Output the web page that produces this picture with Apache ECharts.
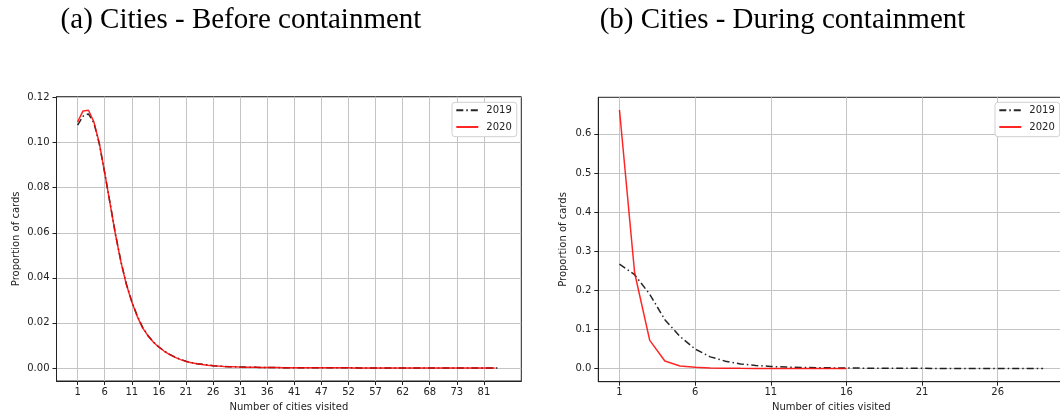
<!DOCTYPE html>
<html><head><meta charset="utf-8">
<script src="https://cdn.jsdelivr.net/npm/echarts@6/dist/echarts.min.js"></script>
<style>html,body{margin:0;padding:0;background:#fff}#c{width:1060px;height:416px}</style>
</head><body><div id="c"></div><script>
// ---- data ----
const titles = ['(a) Cities - Before containment', '(b) Cities - During containment'];
const seriesNames = ['2019', '2020'];
// Panel (a): categories (number of cities visited) present in the data
const beforeCities = [1,2,3,4,5,6,7,8,9,10,11,12,13,14,15,16,17,18,19,20,
  21,22,23,24,25,26,27,28,29,30,31,32,33,34,35,36,37,38,39,40,
  41,42,43,44,46,47,48,49,50,51,52,53,54,55,56,57,58,59,60,61,
  62,63,64,65,66,68,69,70,71,72,73,74,75,77,79,81,82,84,86];
const before2019 = [0.1078,0.1118,0.1128,0.1088,0.0995,0.0866,0.0730,0.0592,0.0472,0.0372,
  0.0295,0.0231,0.0180,0.0143,0.0115,0.0093,0.0075,0.0060,0.0048,0.0038,
  0.0030,0.0024,0.0019,0.0016,0.0013,0.0010,0.00084,0.00070,0.00058,0.00049,
  0.00042,0.00036,0.00031,0.00026,0.00022,0.00019,0.00017,0.00014,0.00012,0.00011,
  0.00009,0.00008,0.00007,0.00006,0.00006,0.00005,0.00004,0.00004,0.00004,0.00003,
  0.00003,0.00003,0.00002,0.00002,0.00002,0.00002,0.00002,0.00001,0.00001,0.00001,
  0.00001,0.00001,0.00001,0.00001,0.00001,0.00001,0.00001,0.00001,0.00001,0.00001,
  0.00001,0.00001,0.00001,0.00001,0.00001,0.00001,0.00001,0.00001,0.00001];
const before2020 = [0.1092,0.1141,0.1144,0.1092,0.0998,0.0866,0.0728,0.0590,0.0470,0.0370,
  0.0293,0.0229,0.0178,0.0142,0.0114,0.0092,0.0074,0.0059,0.0047,0.0037,
  0.0029,0.0023,0.0019,0.0015,0.0012,0.0010,0.00082,0.00068,0.00057,0.00048,
  0.00041,0.00035,0.00030,0.00026,0.00022,0.00019,0.00016,0.00014,0.00012,0.00010,
  0.00009,0.00008,0.00007,0.00006,0.00005,0.00005,0.00004,0.00004,0.00003,0.00003,
  0.00003,0.00002,0.00002,0.00002,0.00002,0.00002,0.00001,0.00001,0.00001,0.00001,
  0.00001,0.00001,0.00001,0.00001,0.00001,0.00001,0.00001,0.00001,0.00001,0.00001,
  0.00001,0.00001,0.00001,0.00001,0.00001,0.00001,0.00001,0.00001];
const beforeTickIdx = [0,5,10,15,20,25,30,35,40,45,50,55,60,65,70,75];
const beforeYTicks = [0,0.02,0.04,0.06,0.08,0.10,0.12];
// Panel (b)
const duringX = [1,2,3,4,5,6,7,8,9,10,11,12,13,14,15,16,17,18,19,20,21,22,23,24,25,26,27,28,29];
const during2019 = [0.267,0.240,0.190,0.125,0.082,0.050,0.030,0.019,0.012,0.008,
  0.0055,0.004,0.003,0.0024,0.0019,0.0015,0.0012,0.0010,0.0008,0.0007,
  0.0006,0.0005,0.0004,0.0004,0.0003,0.0003,0.0002,0.0002,0.0002];
const during2020 = [0.661,0.245,0.072,0.0195,0.0068,0.0033,0.0018,0.0011,0.0007,0.0005,
  0.0004,0.0003,0.0002,0.0002,0.0001,0.0001];
const duringXTicks = [1,6,11,16,21,26];
const duringYTicks = [0,0.1,0.2,0.3,0.4,0.5,0.6];

// ---- chart ----
const FONT = 'DejaVu Sans';
const TXT = '#222';
const grids = [
  {left: 56.5, top: 96.7, width: 464.8, height: 284.3},
  {left: 598.3, top: 97.3, width: 466, height: 284.4}
];
function xAx(idx, min, max, ticks, fmt) {
  return {
    type: 'value', gridIndex: idx, min: min, max: max,
    name: 'Number of cities visited', nameLocation: 'middle', nameGap: 21,
    nameTextStyle: {fontFamily: FONT, fontSize: 10, color: TXT},
    axisLine: {onZero: false, lineStyle: {color: '#222', width: 1}},
    axisTick: {customValues: ticks, length: 4, lineStyle: {color: '#222'}},
    axisLabel: {customValues: ticks, formatter: fmt, fontFamily: FONT, fontSize: 10, color: TXT, margin: 6},
    splitLine: {show: true, lineStyle: {color: '#c4c4c4', width: 1}}
  };
}
function yAx(idx, min, max, ticks, dec, gap) {
  return {
    type: 'value', gridIndex: idx, min: min, max: max,
    name: 'Proportion of cards', nameLocation: 'middle', nameGap: gap,
    nameTextStyle: {fontFamily: FONT, fontSize: 10, color: TXT},
    axisLine: {show: true, onZero: false, lineStyle: {color: '#222', width: 1}},
    axisTick: {show: true, customValues: ticks, length: 4, lineStyle: {color: '#222'}},
    axisLabel: {customValues: ticks, formatter: v => v.toFixed(dec), fontFamily: FONT, fontSize: 10, color: TXT, margin: 7},
    splitLine: {show: true, lineStyle: {color: '#c4c4c4', width: 1}}
  };
}
const blackStyle = {color: 'rgba(0,0,0,0.85)', width: 1.5, type: [7, 3, 1.5, 3]};
const redStyle = {color: 'rgba(255,0,0,0.85)', width: 1.5, type: 'solid'};
function line(name, xi, data, style) {
  return {
    name: name, type: 'line', xAxisIndex: xi, yAxisIndex: xi, data: data,
    symbol: 'none', showSymbol: false, lineStyle: style, itemStyle: {color: style.color},
    animation: false, silent: true
  };
}
function legend(left) {
  return {
    data: seriesNames, orient: 'vertical', left: left, top: 102.3,
    itemWidth: 22, itemHeight: 10, itemGap: 6.7, padding: [3, 5, 4.7, 3.3],
    borderColor: '#d0d0d0', borderWidth: 1, borderRadius: 3, backgroundColor: '#fff',
    itemStyle: {opacity: 0, borderWidth: 0},
    textStyle: {fontFamily: FONT, fontSize: 10, color: TXT, padding: [0, 0, 0, 3]},
    selectedMode: false
  };
}
const option = {
  animation: false,
  backgroundColor: '#fff',
  grid: grids.map(g => Object.assign({show: true, borderColor: '#222', borderWidth: 1, backgroundColor: '#fff', containLabel: false, outerBoundsMode: 'none'}, g)),
  xAxis: [
    xAx(0, -3.9, 81.9, beforeTickIdx, v => String(beforeCities[v])),
    xAx(1, -0.4, 30.4, duringXTicks, v => String(v))
  ],
  yAxis: [
    yAx(0, -0.0058, 0.1204, beforeYTicks, 2, 35),
    yAx(1, -0.0335, 0.6935, duringYTicks, 1, 30)
  ],
  legend: [legend(452), legend(995)],
  graphic: [
    {type: 'text', x: 241, y: 20, style: {text: titles[0], fontFamily: 'Liberation Serif', fontSize: 29, fill: '#000', align: 'center', verticalAlign: 'middle'}},
    {type: 'text', x: 782.5, y: 20, style: {text: titles[1], fontFamily: 'Liberation Serif', fontSize: 29, fill: '#000', align: 'center', verticalAlign: 'middle'}}
  ],
  series: [
    line(seriesNames[0], 0, before2019.map((v, i) => [i, v]), blackStyle),
    line(seriesNames[1], 0, before2020.map((v, i) => [i, v]), redStyle),
    line(seriesNames[0], 1, during2019.map((v, i) => [duringX[i], v]), blackStyle),
    line(seriesNames[1], 1, during2020.map((v, i) => [duringX[i], v]), redStyle)
  ]
};
const chart = echarts.init(document.getElementById('c'), null, {renderer: 'canvas'});
chart.setOption(option);
</script></body></html>
